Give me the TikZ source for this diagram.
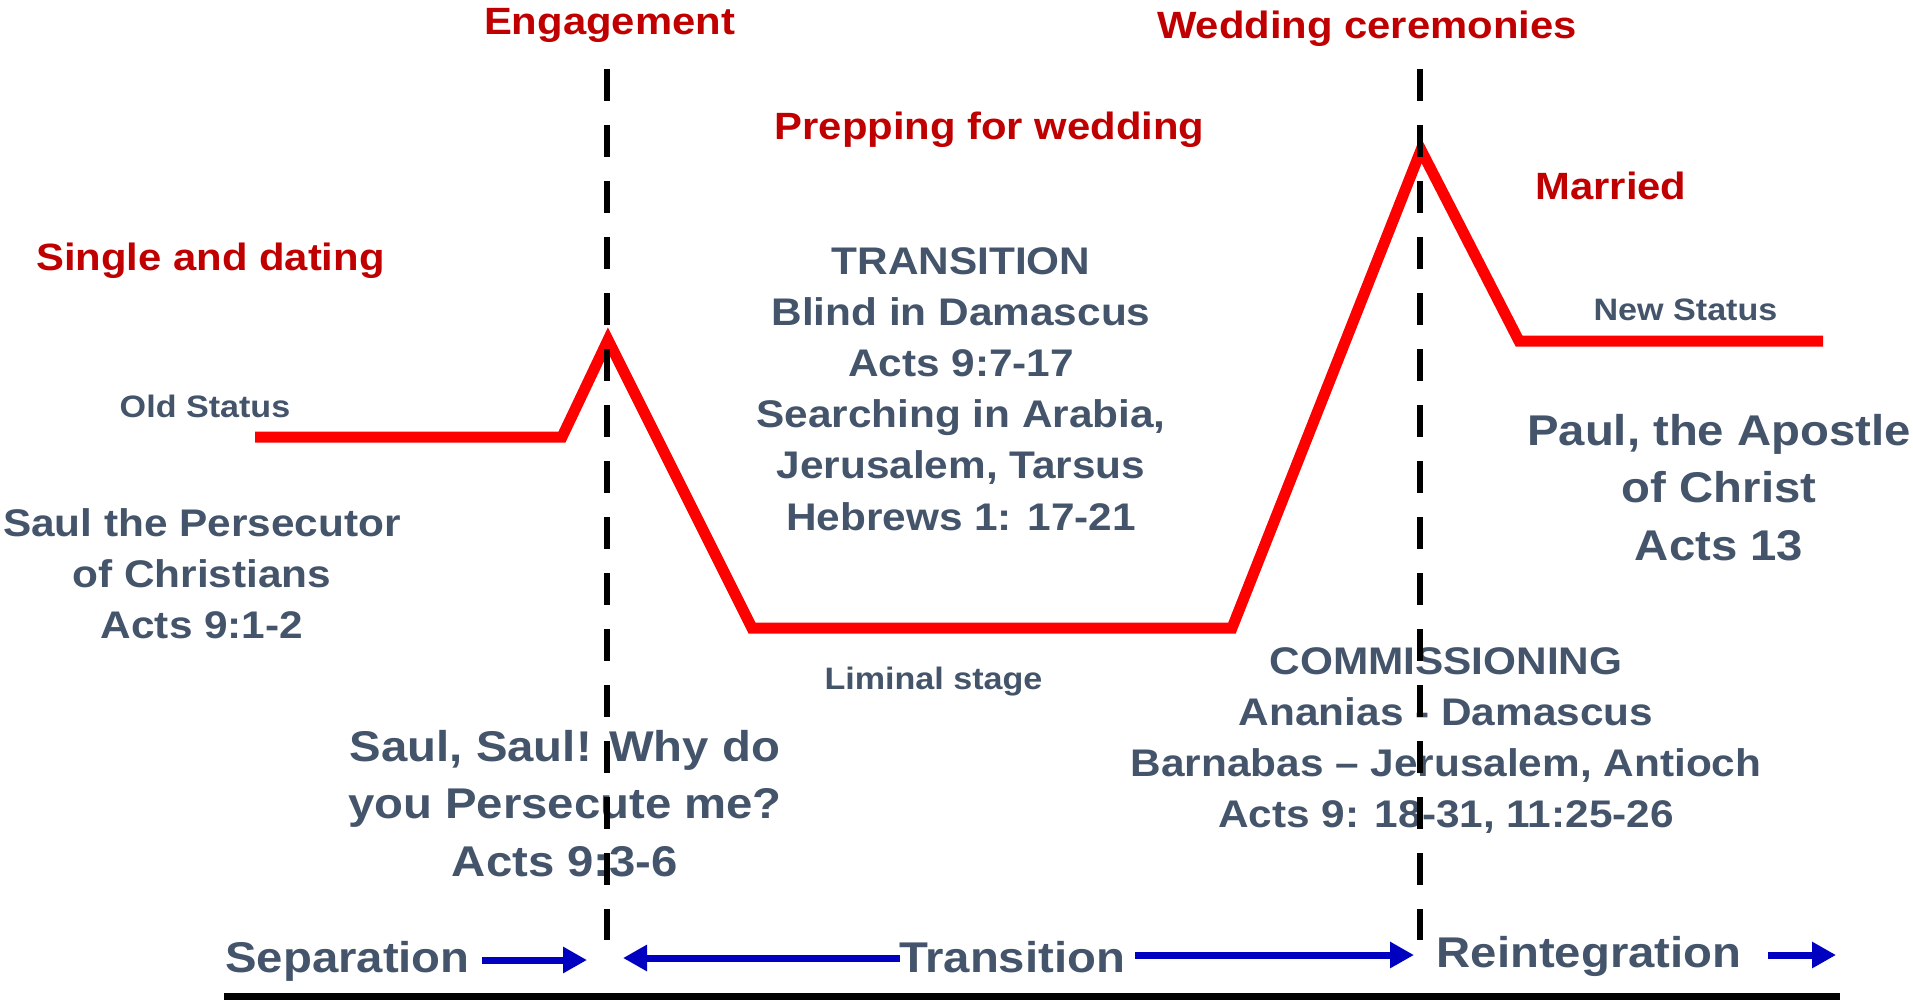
\documentclass[tikz,border=0pt]{standalone}
\usepackage{fontspec}
\setmainfont{Liberation Sans}[FakeStretch=1.1]
\usetikzlibrary{arrows.meta}
\definecolor{slate}{RGB}{68,84,106}
\definecolor{darkred}{RGB}{192,0,0}
\definecolor{linered}{RGB}{255,0,0}
\definecolor{arrowblue}{RGB}{0,0,192}
\tikzset{
  txt/.style={inner sep=0pt, anchor=base, align=center},
  redlbl/.style={txt, text=darkred, font=\bfseries\fontsize{38}{46}\selectfont},
  smalllbl/.style={txt, text=slate, font=\bfseries\fontsize{31}{37}\selectfont},
  midlbl/.style={txt, text=slate, font=\bfseries\fontsize{38.5}{51.2}\selectfont},
  commlbl/.style={txt, text=slate, font=\bfseries\fontsize{38.5}{50.7}\selectfont},
  biglbl/.style={txt, text=slate, font=\bfseries\fontsize{43}{57.3}\selectfont},
  statusline/.style={draw=linered, line width=11pt, line join=miter},
  divider/.style={draw=black, line width=6pt, dash pattern=on 32pt off 24pt},
  phasearrow/.style={draw=arrowblue, line width=7pt, -{Triangle[length=24pt,width=25pt]}},
  bottomrule/.style={draw=black, line width=7pt}
}
\begin{document}
\begin{tikzpicture}[x=1pt,y=-1pt]
\useasboundingbox (0,0) rectangle (1913,1000);

% red headings
\node[redlbl] (engage) at (609.5,35) {Engagement};
\node[redlbl] (wedcer) at (1367,39) {Wedding ceremonies};
\node[redlbl] (prep) at (989.5,140) {Prepping for wedding};
\node[redlbl] (single) at (210.5,270) {Single and dating};
\node[redlbl] (married) at (1611,200) {Married};

% small labels
\node[smalllbl] (old) at (205,417) {Old Status};
\node[smalllbl] (new) at (1685.5,320) {New Status};
\node[smalllbl] (liminal) at (933.5,689) {Liminal stage};

% descriptive blocks (anchor base = last line's baseline)
\node[midlbl] (trans) at (961,530) {TRANSITION\\Blind in Damascus\\Acts 9:7-17\\Searching in Arabia,\\Jerusalem, Tarsus\\Hebrews 1: 17-21};
\node[commlbl] (saulp) at (202,638) {Saul the Persecutor\\of Christians\\Acts 9:1-2};
\node[biglbl] (saulq) at (565,876) {Saul, Saul! Why do\\you Persecute me?\\Acts 9:3-6};
\node[biglbl] (paul) at (1719,560) {Paul, the Apostle\\of Christ\\Acts 13};
\node[commlbl] (comm) at (1446,827) {COMMISSIONING\\Ananias - Damascus\\Barnabas – Jerusalem, Antioch\\Acts 9: 18-31, 11:25-26};

% phase labels
\node[biglbl] (sep) at (347.5,972) {Separation};
\node[biglbl] (tra) at (1012,972) {Transition};
\node[biglbl] (rei) at (1589,967) {Reintegration};

% status line
\coordinate (p1) at (255,437);
\coordinate (p2) at (562,437);
\coordinate (p3) at (608,340);
\coordinate (p4) at (752,628);
\coordinate (p5) at (1232,628);
\coordinate (p6) at (1421,150);
\coordinate (p7) at (1519,341);
\coordinate (p8) at (1823,341);
\draw[statusline] (p1) -- (p2) -- (p3) -- (p4) -- (p5) -- (p6) -- (p7) -- (p8);

% phase arrows
\coordinate (a1s) at (482,960);
\coordinate (a1e) at (587,960);
\coordinate (a2s) at (900,958);
\coordinate (a2e) at (623,958);
\coordinate (a3s) at (1135,955);
\coordinate (a3e) at (1414,955);
\coordinate (a4s) at (1768,955);
\coordinate (a4e) at (1836,955);
\draw[phasearrow] (a1s) -- (a1e);
\draw[phasearrow] (a2s) -- (a2e);
\draw[phasearrow] (a3s) -- (a3e);
\draw[phasearrow] (a4s) -- (a4e);

% dividers
\coordinate (d1t) at (607,69);
\coordinate (d1b) at (607,940);
\coordinate (d2t) at (1420,69);
\coordinate (d2b) at (1420,940);
\draw[divider] (d1t) -- (d1b);
\draw[divider] (d2t) -- (d2b);

% bottom rule
\coordinate (b1) at (224,996.5);
\coordinate (b2) at (1840,996.5);
\draw[bottomrule] (b1) -- (b2);
\end{tikzpicture}
\end{document}
